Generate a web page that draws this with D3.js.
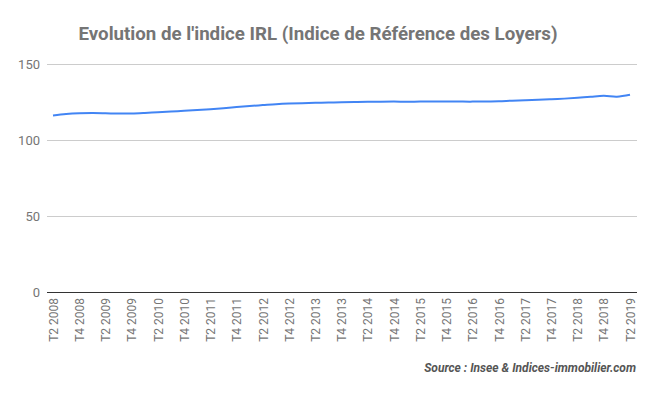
<!DOCTYPE html>
<html>
<head>
<meta charset="utf-8">
<script src="https://cdn.jsdelivr.net/npm/d3@7"></script>
<style>
  body { margin: 0; background: #fff; }
  text { font-family: Roboto, "Noto Sans", sans-serif; }
</style>
</head>
<body>
<div id="chart"></div>
<script>
var svgWidth = 657;
var svgHeight = 396;

// Quarters from T2 2008 to T2 2019
var quarters = [
  "T2 2008", "T3 2008", "T4 2008",
  "T1 2009", "T2 2009", "T3 2009", "T4 2009",
  "T1 2010", "T2 2010", "T3 2010", "T4 2010",
  "T1 2011", "T2 2011", "T3 2011", "T4 2011",
  "T1 2012", "T2 2012", "T3 2012", "T4 2012",
  "T1 2013", "T2 2013", "T3 2013", "T4 2013",
  "T1 2014", "T2 2014", "T3 2014", "T4 2014",
  "T1 2015", "T2 2015", "T3 2015", "T4 2015",
  "T1 2016", "T2 2016", "T3 2016", "T4 2016",
  "T1 2017", "T2 2017", "T3 2017", "T4 2017",
  "T1 2018", "T2 2018", "T3 2018", "T4 2018",
  "T1 2019", "T2 2019"
];

// IRL values
var irlValues = [
  116.07, 117.03, 117.54,
  117.70, 117.59, 117.41, 117.47,
  117.81, 118.26, 118.70, 119.17,
  119.69, 120.31, 120.95, 121.68,
  122.37, 122.96, 123.55, 123.97,
  124.25, 124.44, 124.66, 124.83,
  125.00, 125.15, 125.24, 125.29,
  125.19, 125.25, 125.26, 125.28,
  125.26, 125.25, 125.33, 125.50,
  125.90, 126.19, 126.46, 126.82,
  127.22, 127.77, 128.45, 129.03,
  128.45, 129.72
];

var yTicks = [0, 50, 100, 150];

// only every other quarter is labelled
var xTickLabels = quarters.filter(function(q, i) { return i % 2 === 0; });

var data = quarters.map(function(q, i) {
  return { quarter: q, value: irlValues[i] };
});

var svg = d3.select("#chart")
  .append("svg")
  .attr("width", svgWidth)
  .attr("height", svgHeight);

var xScale = d3.scalePoint()
  .domain(quarters)
  .range([53, 630]);

var yScale = d3.scaleLinear()
  .domain([0, 150])
  .range([292, 64]);

// Title
svg.append("text")
  .attr("x", 318)
  .attr("y", 40)
  .attr("text-anchor", "middle")
  .attr("font-size", "18.7px")
  .attr("font-weight", "bold")
  .attr("fill", "#757575")
  .text("Evolution de l'indice IRL (Indice de Référence des Loyers)");

// Gridlines
svg.append("g")
  .selectAll("line")
  .data(yTicks.filter(function(t) { return t > 0; }))
  .enter()
  .append("line")
  .attr("x1", 47)
  .attr("x2", 637)
  .attr("y1", function(d) { return Math.round(yScale(d)) + 0.5; })
  .attr("y2", function(d) { return Math.round(yScale(d)) + 0.5; })
  .attr("stroke", "#cccccc")
  .attr("stroke-width", 1);

// Y axis labels
var leftAxis = d3.axisLeft(yScale)
  .tickValues(yTicks)
  .tickSize(0)
  .tickPadding(0);

var yAxisGroup = svg.append("g")
  .attr("transform", "translate(40,0)")
  .call(leftAxis);
yAxisGroup.select(".domain").remove();
yAxisGroup.selectAll("text")
  .attr("font-size", "13px")
  .attr("fill", "#757575")
  .attr("font-family", "Roboto, sans-serif");

// Baseline
svg.append("line")
  .attr("x1", 47)
  .attr("x2", 637)
  .attr("y1", Math.round(yScale(0)) + 0.5)
  .attr("y2", Math.round(yScale(0)) + 0.5)
  .attr("stroke", "#333333")
  .attr("stroke-width", 1);

// X axis labels, rotated
var bottomAxis = d3.axisBottom(xScale)
  .tickValues(xTickLabels)
  .tickSize(0)
  .tickPadding(0);

var xAxisGroup = svg.append("g")
  .attr("transform", "translate(0,297)")
  .call(bottomAxis);
xAxisGroup.select(".domain").remove();
xAxisGroup.selectAll("text")
  .attr("font-size", "12px")
  .attr("fill", "#757575")
  .attr("font-family", "Roboto, sans-serif")
  .attr("text-anchor", "end")
  .attr("transform", "rotate(-90)")
  .attr("x", -1)
  .attr("y", 0)
  .attr("dy", "0.35em");

// Line
var line = d3.line()
  .x(function(d) { return xScale(d.quarter); })
  .y(function(d) { return yScale(d.value); })
  .curve(d3.curveCatmullRom.alpha(0.5));

svg.append("path")
  .datum(data)
  .attr("d", line)
  .attr("fill", "none")
  .attr("stroke", "#4285f4")
  .attr("stroke-width", 2);

// Source
svg.append("text")
  .attr("x", 636)
  .attr("y", 372)
  .attr("text-anchor", "end")
  .attr("font-size", "12px")
  .attr("font-weight", "bold")
  .attr("font-style", "italic")
  .attr("fill", "#555555")
  .text("Source : Insee & Indices-immobilier.com");
</script>
</body>
</html>
